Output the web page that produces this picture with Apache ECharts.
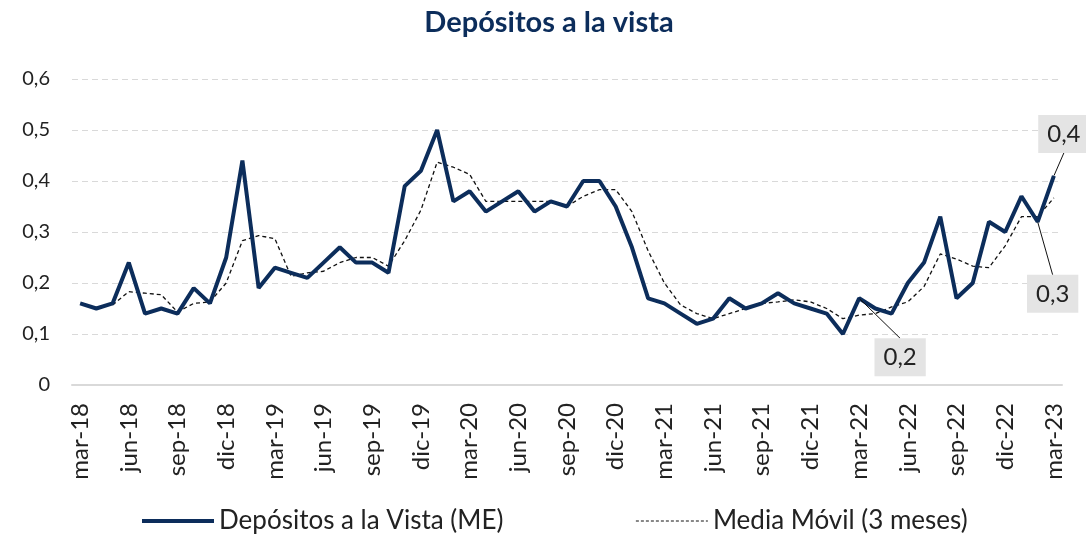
<!DOCTYPE html>
<html>
<head>
<meta charset="utf-8">
<script src="https://cdn.jsdelivr.net/npm/echarts@6/dist/echarts.min.js"></script>
<style>
  html, body { margin: 0; padding: 0; background: #fff; }
  #chart { width: 1086px; height: 539px; }
</style>
</head>
<body>
<div id="chart"></div>
<script>
const months = [
  "mar-18", "abr-18", "may-18", "jun-18", "jul-18", "ago-18", "sep-18", "oct-18", "nov-18", "dic-18",
  "ene-19", "feb-19", "mar-19", "abr-19", "may-19", "jun-19", "jul-19", "ago-19", "sep-19", "oct-19", "nov-19", "dic-19",
  "ene-20", "feb-20", "mar-20", "abr-20", "may-20", "jun-20", "jul-20", "ago-20", "sep-20", "oct-20", "nov-20", "dic-20",
  "ene-21", "feb-21", "mar-21", "abr-21", "may-21", "jun-21", "jul-21", "ago-21", "sep-21", "oct-21", "nov-21", "dic-21",
  "ene-22", "feb-22", "mar-22", "abr-22", "may-22", "jun-22", "jul-22", "ago-22", "sep-22", "oct-22", "nov-22", "dic-22",
  "ene-23", "feb-23", "mar-23"
];

// Depositos a la vista (ME)
const depositos = [
  0.16, 0.15, 0.16, 0.24, 0.14, 0.15, 0.14, 0.19, 0.16, 0.25,
  0.44, 0.19, 0.23, 0.22, 0.21, 0.24, 0.27, 0.24, 0.24, 0.22, 0.39, 0.42,
  0.50, 0.36, 0.38, 0.34, 0.36, 0.38, 0.34, 0.36, 0.35, 0.40, 0.40, 0.35,
  0.27, 0.17, 0.16, 0.14, 0.12, 0.13, 0.17, 0.15, 0.16, 0.18, 0.16, 0.15,
  0.14, 0.10, 0.17, 0.15, 0.14, 0.20, 0.24, 0.33, 0.17, 0.20, 0.32, 0.30,
  0.37, 0.32, 0.41
];

// media movil 3 meses (starts on the third month)
const mediaMovil = [
  "-", "-", 0.157, 0.183, 0.180, 0.177, 0.143, 0.160, 0.163, 0.200,
  0.283, 0.293, 0.287, 0.213, 0.220, 0.223, 0.240, 0.250, 0.250, 0.233, 0.283, 0.343,
  0.437, 0.427, 0.413, 0.360, 0.360, 0.360, 0.360, 0.360, 0.350, 0.370, 0.383, 0.383,
  0.340, 0.263, 0.200, 0.157, 0.140, 0.130, 0.140, 0.150, 0.160, 0.163, 0.167, 0.163,
  0.150, 0.130, 0.137, 0.140, 0.153, 0.163, 0.193, 0.257, 0.247, 0.233, 0.230, 0.273,
  0.330, 0.330, 0.367
];

const yTicks = [0, 0.1, 0.2, 0.3, 0.4, 0.5, 0.6];

// points that carry a value label
const labelIdx = [48, 59, 60];
// where each label box sits relative to its point
const labelOffset = {
  48: { dx: 41, dy: 59 },
  59: { dx: 15, dy: 72 },
  60: { dx: 10, dy: -42 }
};

const navy = "#0c2d5b";
const fontFam = "Lato, 'Noto Sans', sans-serif";

function fmtComma(v) {
  if (v === 0) return "0";
  return v.toFixed(1).replace(".", ",");
}

let depData = depositos.map((v, i) => {
  if (labelIdx.includes(i)) {
    return {
      value: v,
      symbol: "circle",
      symbolSize: 1,
      label: { show: true }
    };
  }
  return v;
});

let dom = document.getElementById("chart");
let myChart = echarts.init(dom, null, { renderer: "canvas" });

let option = {
  animation: false,
  backgroundColor: "#ffffff",
  title: {
    text: "Depósitos a la vista",
    left: 544,
    top: 3,
    textAlign: "center",
    textStyle: {
      color: navy,
      fontFamily: fontFam,
      fontWeight: "bold",
      fontSize: 29
    }
  },
  legend: {
    top: 508,
    left: 140,
    padding: 0,
    itemWidth: 72,
    itemHeight: 14,
    itemGap: 132,
    itemStyle: { opacity: 0 },
    textStyle: {
      color: "#222",
      fontFamily: fontFam,
      fontSize: 26
    },
    data: [
      { name: "Depósitos a la Vista (ME)", lineStyle: { width: 4, color: navy } },
      { name: "Media Móvil (3 meses)", lineStyle: { width: 1, color: "#111", type: [3, 2] } }
    ]
  },
  grid: {
    left: 72,
    right: 24,
    top: 79,
    bottom: 154,
    outerBoundsMode: "none"
  },
  xAxis: {
    type: "category",
    data: months,
    boundaryGap: true,
    axisLine: { lineStyle: { color: "#d9d9d9", width: 2 } },
    axisTick: { show: false },
    axisLabel: {
      interval: 2,
      rotate: 90,
      margin: 18,
      color: "#222",
      fontFamily: fontFam,
      fontSize: 24
    }
  },
  yAxis: {
    type: "value",
    min: yTicks[0],
    max: yTicks[yTicks.length - 1],
    interval: 0.1,
    axisLine: { show: false },
    axisTick: { show: false },
    axisLabel: {
      margin: 22,
      color: "#222",
      fontFamily: fontFam,
      fontSize: 20,
      formatter: fmtComma
    },
    splitLine: {
      lineStyle: { color: "#d9d9d9", type: [6, 4], width: 1 }
    }
  },
  series: [
    {
      name: "Depósitos a la Vista (ME)",
      type: "line",
      data: depData,
      symbol: "none",
      showSymbol: true,
      showAllSymbol: true,
      z: 3,
      lineStyle: { color: navy, width: 4 },
      itemStyle: { color: navy },
      label: {
        show: false,
        position: "inside",
        formatter: (p) => fmtComma(p.value),
        color: "#222",
        fontFamily: fontFam,
        fontSize: 24,
        backgroundColor: "#e4e4e4",
        padding: [7, 9]
      },
      labelLine: {
        show: true,
        lineStyle: { color: "#111", width: 1 }
      },
      labelLayout: (params) => {
        let off = labelOffset[params.dataIndex];
        if (!off) return {};
        return { dx: off.dx, dy: off.dy };
      }
    },
    {
      name: "Media Móvil (3 meses)",
      type: "line",
      data: mediaMovil,
      symbol: "none",
      z: 2,
      lineStyle: { color: "#111", width: 1.3, type: [4, 3] },
      itemStyle: { color: "#111" }
    }
  ]
};

if (option && typeof option === "object") {
  myChart.setOption(option);
}
window.addEventListener("resize", myChart.resize);
</script>
</body>
</html>
